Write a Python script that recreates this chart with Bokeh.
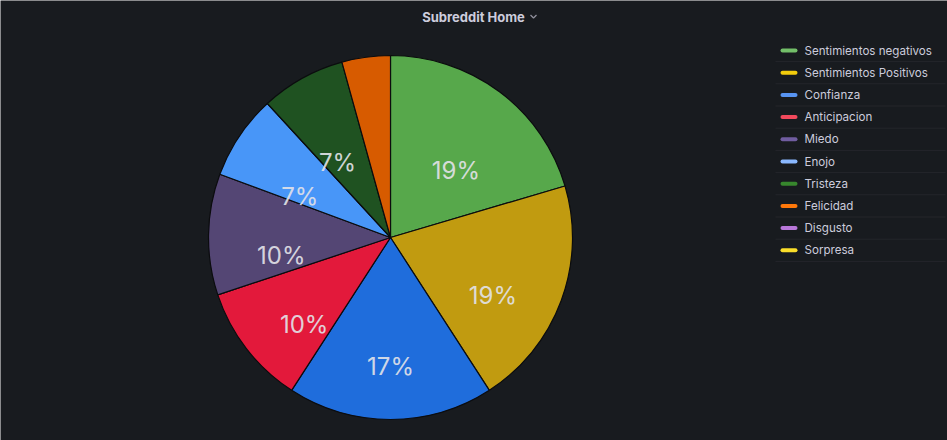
import math
from bokeh.plotting import figure
from bokeh.models import ColumnDataSource, Label
from bokeh.core.properties import value
from bokeh.embed import file_html
from bokeh.resources import INLINE

# ---- data ----
categories = ["Sentimientos negativos", "Sentimientos Positivos", "Confianza",
              "Anticipacion", "Miedo", "Enojo", "Tristeza", "Felicidad",
              "Disgusto", "Sorpresa"]
percent_labels = [19, 19, 17, 10, 10, 7, 7, 4, 0, 0]
legend_colors = ["#73BF69", "#F2CC0C", "#5794F2", "#F2495C", "#705DA0",
                 "#8AB8FF", "#37872D", "#FF780A", "#B877D9", "#FADE2A"]
slice_colors = ["#57a84b", "#c19b10", "#1f6ddc", "#e3193b", "#544674",
                "#4896f8", "#1f5221", "#d75b00", "#9a5cc0", "#e0c414"]

W, H = 947, 440
BG = "#181b1f"
TXT = "#ccccdc"

p = figure(width=W, height=H, x_range=(0, W), y_range=(0, H),
           output_backend="svg", toolbar_location=None,
           min_border=0, background_fill_color=BG, border_fill_color=BG,
           outline_line_color=None)
p.axis.visible = False
p.grid.visible = False

# ---- pie ----
cx, cy_pix, R = 390, 237, 182
cy = H - cy_pix
total = float(sum(percent_labels))
starts, ends, mids = [], [], []
cum = 0.0
for v in percent_labels:
    f0 = cum / total
    cum += v
    f1 = cum / total
    starts.append(math.pi / 2 - f0 * 2 * math.pi)
    ends.append(math.pi / 2 - f1 * 2 * math.pi)
    mids.append(math.pi / 2 - (f0 + f1) * math.pi)

shown = [i for i, v in enumerate(percent_labels) if v > 0]
src = ColumnDataSource(dict(
    start=[starts[i] for i in shown],
    end=[ends[i] for i in shown],
    color=[slice_colors[i] for i in shown],
))
p.wedge(x=cx, y=cy, radius=R, radius_units="screen",
        start_angle="start", end_angle="end", direction="clock",
        fill_color="color", line_color="#0b0c0e", line_width=1.2, source=src)

# ---- slice labels ----
lab_idx = [i for i in shown if percent_labels[i] / total >= 0.06]
lr = 0.6 * R
lsrc = ColumnDataSource(dict(
    x=[cx + lr * math.cos(mids[i]) for i in lab_idx],
    y=[cy + lr * math.sin(mids[i]) for i in lab_idx],
    t=[f"{percent_labels[i]}%" for i in lab_idx],
))
p.text(x="x", y="y", text="t", source=lsrc, text_align="center",
       text_baseline="middle", y_offset=20, text_font=value("Inter"),
       text_font_size="24px", text_color="#e2e2e8", text_alpha=0.92)

# ---- title ----
p.add_layout(Label(x=473, y=H - 16, text="Subreddit Home", text_align="center",
                   text_baseline="middle", text_font="Inter", text_font_size="13px",
                   text_font_style="bold", text_color=TXT))
p.line(x=[530, 533, 536], y=[H - 14.5, H - 17.5, H - 14.5],
       line_color="#8e8e9a", line_width=1.3)

# ---- legend ----
row0, step = 50, 22.2
ys = [H - (row0 + k * step) for k in range(len(categories))]
sep_y = [H - (row0 + k * step + step / 2) for k in range(len(categories))]
p.segment(x0=775, y0=sep_y, x1=945, y1=sep_y, line_color="#24262b", line_width=1)
p.segment(x0=782, y0=ys, x1=795, y1=ys, line_color=legend_colors,
          line_width=4, line_cap="round")
p.text(x=[804] * len(categories), y=ys, text=categories, text_align="left",
       text_baseline="middle", text_font=value("Inter"), text_font_size="11.6px",
       text_color=TXT)

open("out.html", "w").write(file_html(p, INLINE))
